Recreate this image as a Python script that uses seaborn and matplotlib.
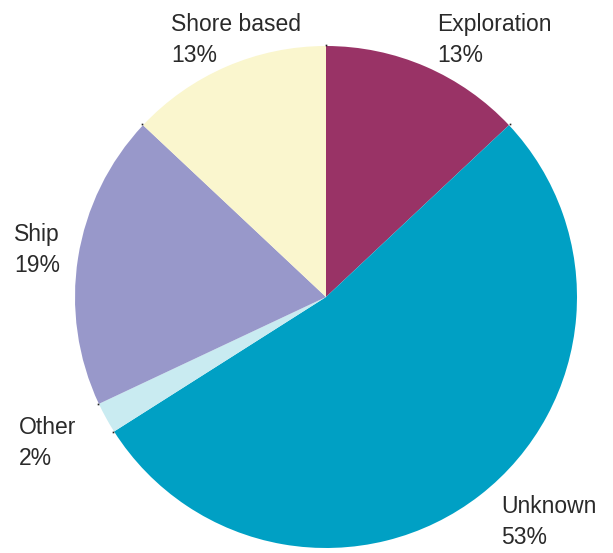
import matplotlib
matplotlib.use("Agg")
import matplotlib.pyplot as plt
import seaborn as sns
import numpy as np

sns.set_theme(style="white")
plt.rcParams['font.family'] = ['Liberation Sans', 'DejaVu Sans']

categories = ["Exploration", "Unknown", "Other", "Ship", "Shore based"]
shares = [13, 53, 2, 19, 13]
colors = ["#993366", "#00A0C4", "#C9EBF1", "#9898CA", "#FAF6CE"]
# label anchor (left, top) in pixel coords from top-left
label_pos = [(437, 13), (501, 495), (19, 416), (14, 223), (171, 13)]

W, H = 613, 553
fig = plt.figure(figsize=(W / 100, H / 100), dpi=100)
ax = fig.add_axes([0, 0, 1, 1])
cx, cy, r = 326, H - 297, 251
wedges, _ = ax.pie(shares, colors=colors, startangle=90, counterclock=False,
                   center=(cx, cy), radius=r,
                   wedgeprops=dict(linewidth=0, antialiased=True))

# small tick marks at slice boundaries
ang = 90 - np.cumsum([0] + shares[:-1]) * 3.6
for a in ang:
    t = np.deg2rad(a)
    ax.plot([cx + (r + 1) * np.cos(t)], [cy + (r + 1) * np.sin(t)], marker='s',
            ms=1.2, color='#222222', mew=0)

for cat, s, (lx, ly) in zip(categories, shares, label_pos):
    ax.text(lx, H - ly, f"{cat}\n{s}%", ha='left', va='top', fontsize=16.5,
            color='#2a2a2a', linespacing=1.42)

ax.set_xlim(0, W)
ax.set_ylim(0, H)
ax.set_aspect('auto')
ax.axis('off')
fig.savefig("out.png", dpi=100)
